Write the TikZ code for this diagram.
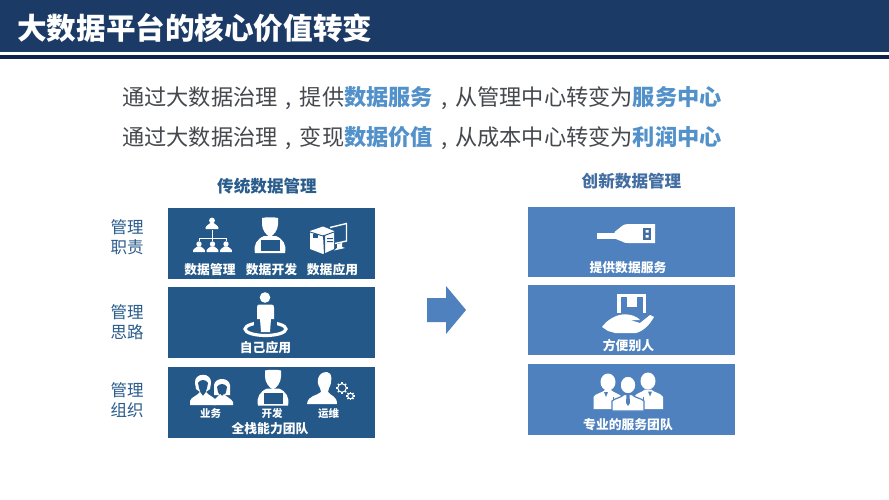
\documentclass[tikz,border=0pt]{standalone}
\usepackage{fontspec}
\setmainfont{Noto Sans CJK SC}
\usetikzlibrary{shapes.geometric}
\definecolor{headblue}{HTML}{1B3A66}
\definecolor{navyline}{HTML}{10204F}
\definecolor{darkbox}{HTML}{235888}
\definecolor{lightbox}{HTML}{4E81BD}
\definecolor{bodygray}{HTML}{45494E}
\definecolor{hilite}{HTML}{5291CA}
\definecolor{sidecol}{HTML}{2A5C8C}
\newcommand{\fs}[1]{\fontsize{#1}{#1}\selectfont}
\newcommand{\bustpic}[3]{%
  \begin{scope}[shift={(#1,#2)},scale=#3]
    \fill[white] (0,0) circle (1);
    \fill[white] (-2.2,3) -- (-2.2,2.3) .. controls (-2.2,1.6) and (-1,1.6) .. (-0.6,0.9) -- (0.6,0.9) .. controls (1,1.6) and (2.2,1.6) .. (2.2,2.3) -- (2.2,3) -- cycle;
  \end{scope}}
\newcommand{\gearpic}[3]{%
  \draw[white,line width=1pt] (#1,#2) circle (#3);
  \foreach \a in {0,45,...,315}{\draw[white,line width=1.1pt] ([shift={(\a:#3)}]#1,#2) -- ([shift={(\a:#3+1.6)}]#1,#2);}}
\newcommand{\devpic}[3]{%
  \begin{scope}[shift={(#1,#2)}]
    \fill[white] (-8,0) .. controls (-4,-1) and (4,-1) .. (8,0) -- (8,6) .. controls (8,12) and (4,17) .. (0,19) .. controls (-4,17) and (-8,12) .. (-8,6) -- cycle;
    \fill[white] (-15,35) .. controls (-17,27) and (-13,21) .. (-6,18) -- (6,18) .. controls (13,21) and (17,27) .. (15,35) -- cycle;
    \fill[#3] (-9,22) rectangle (10,33);
    \draw[white,line width=1pt] (-10,33.7) -- (11,33.7);
  \end{scope}}
\newcommand{\cm}{\makebox[1em][c]{,}}
\tikzset{
  boxdark/.style={fill=darkbox,draw=none,minimum width=207pt,anchor=north west,inner sep=0pt},
  boxlight/.style={fill=lightbox,draw=none,minimum width=207pt,anchor=north west,inner sep=0pt},
  boxlabel/.style={text=white,font=\fs{12.8}\bfseries,inner sep=0pt},
  smalllabel/.style={text=white,font=\fs{10.5}\bfseries,inner sep=0pt},
  sidelabel/.style={text=sidecol,font=\fs{16.5},inner sep=0pt},
  linetext/.style={text=bodygray,font=\fs{22.2},anchor=west,inner sep=0pt},
}
\newcommand{\hl}[1]{\textcolor{hilite}{\bfseries #1}}
\begin{document}
\begin{tikzpicture}[x=1pt,y=-1pt]
\useasboundingbox (0,0) rectangle (889,500);
\fill[white] (0,0) rectangle (889,500);
% header band
\fill[headblue] (0,0) rectangle (889,52);
\fill[navyline] (0,55.5) rectangle (889,59);
\node[text=white,font=\fs{29.6}\bfseries,anchor=west,inner sep=0pt] (title) at (17,28) {大数据平台的核心价值转变};
% two statements
\node[linetext] (lineA) at (122,98) {通过大数据治理\cm 提供\hl{数据服务}\cm 从管理中心转变为\hl{服务中心}};
\node[linetext] (lineB) at (122,138) {通过大数据治理\cm 变现\hl{数据价值}\cm 从成本中心转变为\hl{利润中心}};
% column heads
\node[text=sidecol,font=\fs{16.6}\bfseries,inner sep=0pt] (headL) at (267,186) {传统数据管理};
\node[text=lightbox!85!black,font=\fs{16.6}\bfseries,inner sep=0pt] (headR) at (631.5,181) {创新数据管理};
% side labels
\node[sidelabel] (sa1) at (127,227) {管理};
\node[sidelabel] (sa2) at (127,247) {职责};
\node[sidelabel] (sb1) at (127,312) {管理};
\node[sidelabel] (sb2) at (127,332) {思路};
\node[sidelabel] (sc1) at (127,390) {管理};
\node[sidelabel] (sc2) at (127,410) {组织};
% left boxes
\node[boxdark,minimum height=71pt] (L1) at (168,208) {};
\node[boxdark,minimum height=71pt] (L2) at (168,287) {};
\node[boxdark,minimum height=71pt] (L3) at (168,367) {};
% right boxes
\node[boxlight,minimum height=70pt] (R1) at (528,207) {};
\node[boxlight,minimum height=70pt] (R2) at (528,285) {};
\node[boxlight,minimum height=71pt] (R3) at (528,364) {};
% block arrow
\fill[lightbox] (427,298) -- (446,298) -- (446,286) -- (466,310) -- (446,334) -- (446,322) -- (427,322) -- cycle;
% --- box L1 icons
\bustpic{212}{220.5}{2.9}
\draw[white,line width=0.8pt] (212,230) -- (212,238) (199,238) -- (226,238) (199,238) -- (199,241) (226,238) -- (226,241) (212,238) -- (212,241);
\bustpic{199}{244}{2.7}
\bustpic{212.5}{244}{2.7}
\bustpic{226}{244}{2.7}
\devpic{270}{218}{darkbox}
% server + monitor
\fill[white] (310,231) -- (323,226.5) -- (334,231) -- (334,249) -- (323,254) -- (310,249) -- cycle;
\fill[darkbox] (323,235) -- (324,254) -- (325,254) -- (325,235) -- cycle;
\fill[darkbox] (310,231.5) -- (323,235.5) -- (334,231.5) -- (334,232.5) -- (323,236.5) -- (310,232.5) -- cycle;
\fill[darkbox] (313,233.5) rectangle (318,238);
\fill[darkbox] (327,238) rectangle (333,239.2) (327,241) rectangle (333,242.2);
\draw[white,line width=1.4pt] (330,227.5) -- (346.5,223.5) -- (346.5,241) -- (335,243.5);
\fill[white] (337,244) -- (342,243) -- (342,247) -- (345,248) -- (334,250.5) -- (337,248) -- cycle;
\node[boxlabel] (t11) at (210,269.5) {数据管理};
\node[boxlabel] (t12) at (271.5,269.5) {数据开发};
\node[boxlabel] (t13) at (332.5,269.5) {数据应用};
% --- box L2 icon
\draw[white,line width=3.2pt] (265.5,329) ellipse (20.5 and 6.5);
\fill[darkbox] (254,318) rectangle (277,330);
\fill[white] (265,297.5) circle (5.3);
\fill[white] (259,304.5) -- (271.5,304.5) .. controls (273.5,304.5) and (274,306) .. (274,308) -- (274,319) -- (271,319) -- (270,332) -- (261,332) -- (260,319) -- (257,319) -- (257,308) .. controls (257,306) and (257.5,304.5) .. (259,304.5) -- cycle;
\node[boxlabel] (t21) at (265.5,347.5) {自己应用};
% --- box L3 icons
\begin{scope}[shift={(203,377)}]
 \fill[white] (-8,6) .. controls (-9,-5) and (9,-5) .. (8,6) -- (7,12) -- (3,15) -- (-3,15) -- (-7,12) -- cycle;
 \fill[darkbox] (-5,6) .. controls (-3,2) and (3,2) .. (5,6) -- (4,11) -- (2,17) -- (-2,17) -- (-4,11) -- cycle;
 \fill[white] (-13,28) -- (-13,24) .. controls (-12,20) and (-6,19) .. (-3,15) -- (0,19) -- (3,15) .. controls (6,19) and (12,20) .. (13,24) -- (13,28) -- cycle;
\end{scope}
\begin{scope}[shift={(222,381)}]
 \fill[white] (-8,4) .. controls (-7,-4) and (7,-4) .. (8,4) -- (8,14) -- (-8,14) -- cycle;
 \fill[darkbox] (-5,6) .. controls (-3,2) and (3,2) .. (5,6) -- (4,11) -- (2,15) -- (-2,15) -- (-4,11) -- cycle;
 \fill[white] (-9,24) -- (-9,21) .. controls (-7,17) and (-4,16) .. (-2,13) -- (0,15) -- (2,13) .. controls (4,16) and (9,17) .. (11,21) -- (11,24) -- cycle;
\end{scope}
\devpic{273}{370.5}{darkbox}
\fill[white] (327,372) .. controls (317,372) and (316,383) .. (320,388) -- (321,392) .. controls (317,396) and (308,395) .. (307,404) -- (337,404) .. controls (337,396) and (331,396) .. (328,392) -- (329,388) .. controls (332,384) and (333,372) .. (327,372) -- cycle;
\gearpic{342}{388}{4.3}
\gearpic{350.5}{396}{2.8}
\node[smalllabel] (t31) at (210.5,413.5) {业务};
\node[smalllabel] (t32) at (272,413.5) {开发};
\node[smalllabel] (t33) at (328.5,413.5) {运维};
\node[boxlabel] (t34) at (270,428.5) {全栈能力团队};
% --- box R1 icon (USB plug)
\fill[white] (597,232.5) rectangle (615,239);
\fill[white] (614.5,232) -- (622,226) .. controls (623,225) and (625,224) .. (628,224) -- (655,224) -- (655,243) -- (628,243) .. controls (625,243) and (623,242.5) .. (622,241.5) -- (614.5,238.5) -- cycle;
\fill[lightbox!85!black] (643,228) rectangle (651,239.5);
\fill[white] (645.5,230) rectangle (648.5,232.5) (645.5,235) rectangle (648.5,237.5);
\node[boxlabel] (r11) at (628,267.5) {提供数据服务};
% --- box R2 icon (hand with parcel)
\fill[white] (617,294) rectangle (646,316);
\fill[lightbox] (620.5,297) rectangle (642.5,318);
\fill[white] (627,297) rectangle (637,307);
\fill[lightbox] (613,313) rectangle (650,319);
\fill[white] (602,327) .. controls (607,320) and (615,315.5) .. (622,314.5) .. controls (630,313.5) and (638,317) .. (640,320) -- (630,320) -- (640,323) -- (650,315) -- (654,317) .. controls (650,324) and (644,331) .. (636,333) -- (615,333) -- (608,331) -- cycle;
\node[boxlabel] (r21) at (628.5,346) {方便别人};
% --- box R3 icon (three people)
\fill[white] (608,382) ellipse (7.5 and 8.5);
\fill[white] (648,381) ellipse (7.5 and 8.5);
\fill[white] (593.5,409) -- (593.5,397) .. controls (595,393.5) and (602,393) .. (605,390) -- (611,390) .. controls (614,393) and (620,394) .. (622,397) -- (622,409) -- cycle;
\fill[white] (634,409) -- (634,397) .. controls (636,393) and (642,392.5) .. (645,389.5) -- (651,389.5) .. controls (654,392.5) and (661,393) .. (663,397) -- (663,409) -- cycle;
\draw[lightbox,line width=1pt] (613,397) -- (613,409) (643,397) -- (643,409);
\draw[lightbox,line width=1.4pt,fill=white] (628,385) ellipse (8 and 9);
\draw[lightbox,line width=1.2pt,fill=white] (612,411) -- (612,401) .. controls (615,398) and (621,398) .. (624,394.5) -- (632,394.5) .. controls (635,398) and (641,398) .. (644,401) -- (644,411) -- cycle;
\fill[lightbox] (626.5,395) -- (629.5,395) -- (630,403) -- (628,406) -- (626,403) -- cycle;
\fill[lightbox] (604,392) -- (606,397) -- (608,392) -- cycle (648,391.5) -- (650,396.5) -- (652,391.5) -- cycle;
\node[boxlabel] (r31) at (628,424.5) {专业的服务团队};
\end{tikzpicture}
\end{document}
